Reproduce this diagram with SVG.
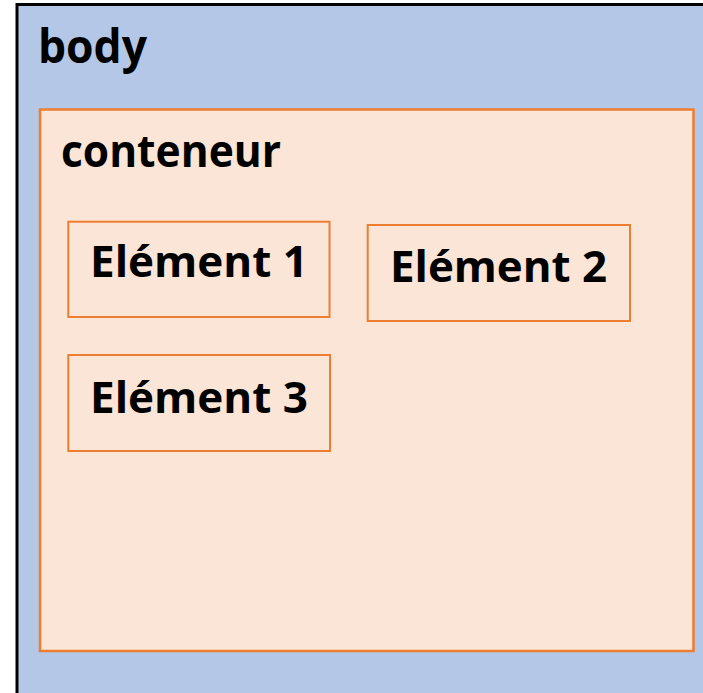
<svg xmlns="http://www.w3.org/2000/svg" width="703" height="693" viewBox="0 0 703 693">
<style>
.body{fill:#B4C7E7;stroke:#000;stroke-width:3}
.cont{fill:#FBE5D6;stroke:#ED7D31;stroke-width:2.5}
.el{fill:#FBE5D6;stroke:#ED7D31;stroke-width:2}
.t{font-family:"Open Sans","Liberation Sans",sans-serif;font-weight:bold;fill:#000}
.big{font-size:44px}
.mid{font-size:43px}
</style>
<rect width="703" height="693" fill="#fff"/>
<g id="body">
<rect class="body" x="17" y="4.5" width="700" height="700"/>
<text class="t" style="font-size:46px" x="38" y="63" textLength="109" lengthAdjust="spacingAndGlyphs">body</text>
</g>
<g id="conteneur">
<rect class="cont" x="40" y="109.5" width="653.5" height="541.5"/>
<text class="t big" x="61" y="166.5" textLength="220" lengthAdjust="spacingAndGlyphs">conteneur</text>
</g>
<g id="element1">
<rect class="el" x="68.3" y="221.7" width="261.2" height="95.3"/>
<text class="t mid" x="90" y="277" textLength="218" lengthAdjust="spacingAndGlyphs">Elément 1</text>
</g>
<g id="element2">
<rect class="el" x="367.7" y="225" width="262.3" height="96"/>
<text class="t mid" x="390" y="282" textLength="217" lengthAdjust="spacingAndGlyphs">Elément 2</text>
</g>
<g id="element3">
<rect class="el" x="68.3" y="355" width="261.7" height="96"/>
<text class="t mid" x="90" y="413" textLength="218" lengthAdjust="spacingAndGlyphs">Elément 3</text>
</g>
<g id="connectors"/>
</svg>
